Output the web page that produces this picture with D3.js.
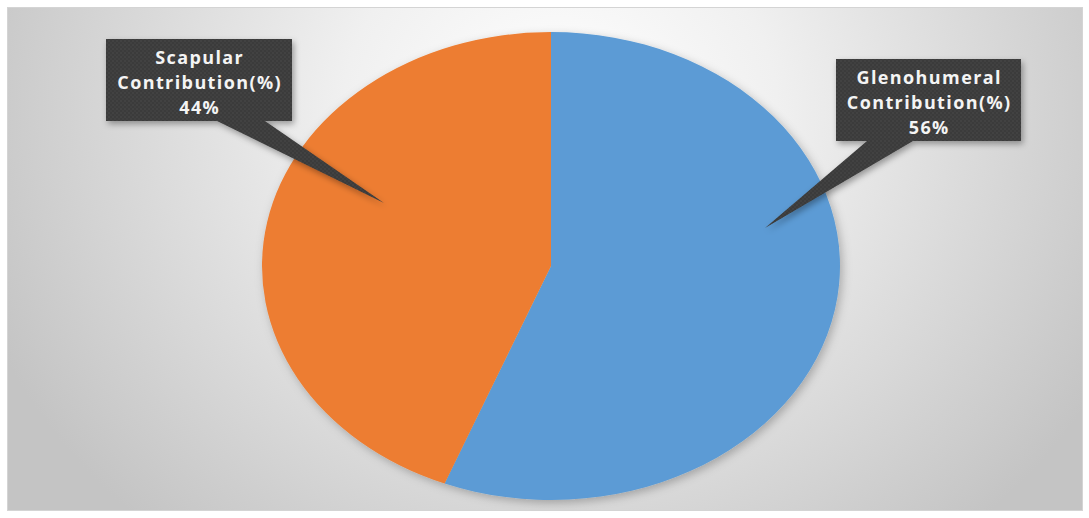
<!DOCTYPE html>
<html><head><meta charset="utf-8">
<script src="https://cdn.jsdelivr.net/npm/d3@7"></script>
<style>html,body{margin:0;padding:0;background:#fff;}svg{display:block;}</style>
</head><body>
<script>
const categories = ["Glenohumeral", "Scapular"];
const labelSuffix = ["Contribution(%)", "Contribution(%)"];
const values = [56, 44];
const colors = ["#5B9BD5", "#ED7D31"];

const W = 1089, H = 518;
const svg = d3.select("body").append("svg").attr("width", W).attr("height", H);
const defs = svg.append("defs");

const bg = defs.append("radialGradient").attr("id", "bg")
  .attr("gradientUnits", "userSpaceOnUse")
  .attr("cx", 560).attr("cy", 110).attr("r", 620)
  .attr("gradientTransform", "translate(560,110) scale(1,0.9) translate(-560,-110)");
bg.append("stop").attr("offset", "0%").attr("stop-color", "#ffffff");
bg.append("stop").attr("offset", "35%").attr("stop-color", "#f0f0f0");
bg.append("stop").attr("offset", "100%").attr("stop-color", "#c4c4c4");

const pat = defs.append("pattern").attr("id", "tex").attr("patternUnits", "userSpaceOnUse")
  .attr("width", 4).attr("height", 4);
pat.append("rect").attr("width", 4).attr("height", 4).attr("fill", "#3a3a3a");
pat.append("circle").attr("cx", 1).attr("cy", 1).attr("r", 0.8).attr("fill", "#4e4e4e");
pat.append("circle").attr("cx", 3).attr("cy", 3).attr("r", 0.8).attr("fill", "#474747");

const sh = defs.append("filter").attr("id", "sh").attr("x", "-20%").attr("y", "-20%").attr("width", "140%").attr("height", "140%");
sh.append("feDropShadow").attr("dx", 2).attr("dy", 3).attr("stdDeviation", 3).attr("flood-color", "#000").attr("flood-opacity", 0.35);
const sh2 = defs.append("filter").attr("id", "sh2").attr("x", "-20%").attr("y", "-20%").attr("width", "140%").attr("height", "140%");
sh2.append("feDropShadow").attr("dx", 2).attr("dy", 3).attr("stdDeviation", 4).attr("flood-color", "#000").attr("flood-opacity", 0.25);

svg.append("rect").attr("x", 7.5).attr("y", 7.5).attr("width", 1075).attr("height", 503)
  .attr("fill", "url(#bg)").attr("stroke", "#d4d4d4").attr("stroke-width", 1);

const cx = 551, cy = 266, rx = 289, ry = 234;
const pie = d3.pie().sort(null).value(d => d)(values);
const arc = d3.arc().innerRadius(0).outerRadius(ry);

const g = svg.append("g").attr("transform", `translate(${cx},${cy}) scale(${rx/ry},1)`).attr("filter", "url(#sh2)");
g.selectAll("path").data(pie).join("path")
  .attr("d", arc).attr("fill", (d, i) => colors[i]);

// callouts
const boxes = [
  {x: 836, y: 59, w: 185, h: 82, base: [867, 913], tip: [765, 228]},
  {x: 106, y: 39, w: 186, h: 82, base: [217, 265], tip: [384, 203]}
];
const lg = svg.append("g");
pie.forEach((d, i) => {
  const b = boxes[i];
  const tip = b.tip;
  const grp = lg.append("g").attr("filter", "url(#sh)");
  grp.append("path")
    .attr("d", `M${b.x},${b.y}H${b.x + b.w}V${b.y + b.h}H${b.base[1]}L${tip[0]},${tip[1]}L${b.base[0]},${b.y + b.h}H${b.x}Z`)
    .attr("fill", "url(#tex)");
  const tx = b.x + b.w / 2 + 0.7;
  const lines = [categories[i], labelSuffix[i], d.data + "%"];
  lines.forEach((t, k) => {
    lg.append("text").attr("x", tx).attr("y", b.y + 24.5 + k * 25)
      .attr("text-anchor", "middle")
      .attr("font-family", "'Open Sans', sans-serif").attr("font-weight", "bold")
      .attr("font-size", 18).attr("letter-spacing", 1.4).attr("fill", "#f4f4f4").text(t);
  });
});
</script>
</body></html>
